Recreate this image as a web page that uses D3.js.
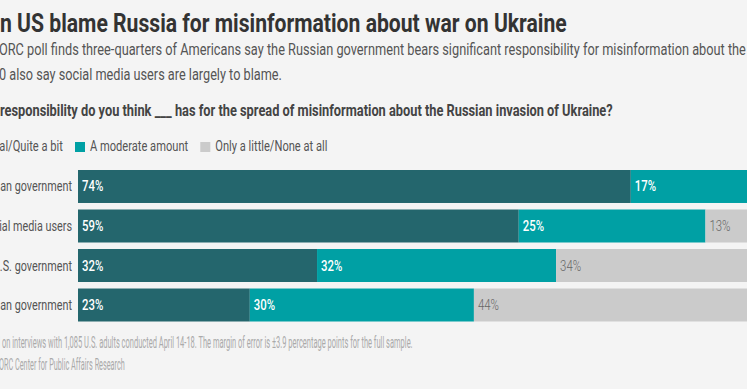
<!DOCTYPE html>
<html>
<head>
<meta charset="utf-8">
<script src="https://cdn.jsdelivr.net/npm/d3@7"></script>
<style>
  html, body { margin: 0; padding: 0; background: #f4f4f4; overflow: hidden; }
  svg { display: block; }
</style>
</head>
<body>
<svg id="chart" width="747" height="389"></svg>
<script>
// data
const categories = ['Russian government', 'Social media users', 'U.S. government', 'Ukrainian government'];
const seriesNames = ['A great deal/Quite a bit', 'A moderate amount', 'Only a little/None at all'];
const greatDeal = [74, 59, 32, 23];
const moderate = [17, 25, 32, 30];
const little = [8, 13, 34, 44];

const colors = ['#24666d', '#00a0a4', '#cbcbcb'];
const FONT = 'Roboto, "Liberation Sans", sans-serif';

const svg = d3.select('#chart');

// put a text so that the part `from`..`to` sits between x0 and x1 (text is squeezed to fit)
function fitText(opts) {
	let t = svg.append('text')
		.attr('font-family', FONT)
		.attr('font-size', opts.size)
		.attr('font-weight', opts.weight || 400)
		.attr('fill', opts.color)
		.text(opts.text);
	let node = t.node();
	let a = opts.text.indexOf(opts.from);
	let b = opts.to ? opts.text.indexOf(opts.to) + opts.to.length : opts.text.length;
	let pre = a > 0 ? node.getSubStringLength(0, a) : 0;
	let span = node.getSubStringLength(a, b - a);
	let s = (opts.x1 - opts.x0) / span;
	t.attr('transform', `translate(${opts.x0 - pre * s},${opts.y}) scale(${s},1)`);
	return s;
}

// headings
fitText({text: 'Most in US blame Russia for misinformation about war on Ukraine', from: 'n US', x0: 0, x1: 567, y: 32, size: 26, weight: 700, color: '#333'});
fitText({text: 'An AP-NORC poll finds three-quarters of Americans say the Russian government bears significant responsibility for misinformation about the war;',
	from: 'ORC poll', to: 'about', x0: -1, x1: 726, y: 55, size: 17, color: '#555'});
fitText({text: 'about 6 in 10 also say social media users are largely to blame.', from: '0 also', x0: -1, x1: 282, y: 80, size: 17, color: '#555'});
fitText({text: 'How much responsibility do you think ___ has for the spread of misinformation about the Russian invasion of Ukraine?',
	from: 'responsibility', x0: 0, x1: 613, y: 116, size: 17, weight: 700, color: '#444'});

// legend
(function() {
	let probe = svg.append('text').attr('font-family', FONT).attr('font-size', 15).text(seriesNames[1]);
	let ls = (189 - 90.7) / probe.node().getComputedTextLength();
	probe.remove();
	let widths = seriesNames.map(n => {
		let p = svg.append('text').attr('font-family', FONT).attr('font-size', 15).text(n);
		let w = p.node().getComputedTextLength() * ls;
		p.remove();
		return w;
	});
	// first text ends at 63
	let x = 63 - widths[0] - 15;
	seriesNames.forEach((n, i) => {
		svg.append('rect').attr('x', x).attr('y', 142).attr('width', 10).attr('height', 10).attr('fill', colors[i]);
		svg.append('text')
			.attr('font-family', FONT).attr('font-size', 15).attr('fill', '#555')
			.attr('transform', `translate(${x + 15},151) scale(${ls},1)`)
			.text(n);
		x = x + 15 + widths[i] + 12;
	});
})();

// bars
const rows = categories.map((c, i) => ({name: c, v0: greatDeal[i], v1: moderate[i], v2: little[i]}));
const stack = d3.stack().keys(['v0', 'v1', 'v2']);
const stacked = stack(rows);

const x = d3.scaleLinear().domain([0, 100]).range([78, 825]);
const y = d3.scaleBand().domain(categories).range([170, 321.5]).paddingInner(0.165).paddingOuter(0);

const layers = svg.append('g').selectAll('g')
	.data(stacked)
	.enter()
	.append('g')
	.attr('fill', (d, i) => colors[i]);

layers.selectAll('rect')
	.data(d => d)
	.enter()
	.append('rect')
	.attr('x', d => x(d[0]))
	.attr('y', d => y(d.data.name))
	.attr('width', d => x(d[1]) - x(d[0]))
	.attr('height', y.bandwidth());

// value labels
let probe = svg.append('text').attr('font-family', FONT).attr('font-size', 14).attr('font-weight', 500).text('74%');
const vs = 21.3 / probe.node().getComputedTextLength();
probe.remove();

layers.each(function(layer, li) {
	d3.select(this).selectAll('text')
		.data(layer)
		.enter()
		.append('text')
		.attr('font-family', FONT)
		.attr('font-size', 14)
		.attr('font-weight', li < 2 ? 500 : 300)
		.attr('fill', li < 2 ? '#fff' : '#666')
		.attr('transform', d => `translate(${x(d[0]) + 4},${y(d.data.name) + y.bandwidth() / 2 + 5}) scale(${vs},1)`)
		.text(d => (d[1] - d[0]) + '%');
});

// category labels
probe = svg.append('text').attr('font-family', FONT).attr('font-size', 15).text('media users');
const cs = 59 / probe.node().getComputedTextLength();
probe.remove();

svg.append('g').selectAll('text')
	.data(categories)
	.enter()
	.append('text')
	.attr('font-family', FONT)
	.attr('font-size', 15)
	.attr('fill', '#555')
	.attr('text-anchor', 'end')
	.attr('transform', d => `translate(72,${y(d) + y.bandwidth() / 2 + 5}) scale(${cs},1)`)
	.text(d => d);

// notes
fitText({text: 'The poll is based on interviews with 1,085 U.S. adults conducted April 14-18. The margin of error is \u00b13.9 percentage points for the full sample.',
	from: 'on interviews', x0: 2, x1: 413, y: 348, size: 16, color: '#aaa'});
fitText({text: 'Source: AP-NORC Center for Public Affairs Research', from: 'ORC Center', x0: -1, x1: 125, y: 370, size: 16, color: '#aaa'});
</script>
</body>
</html>
